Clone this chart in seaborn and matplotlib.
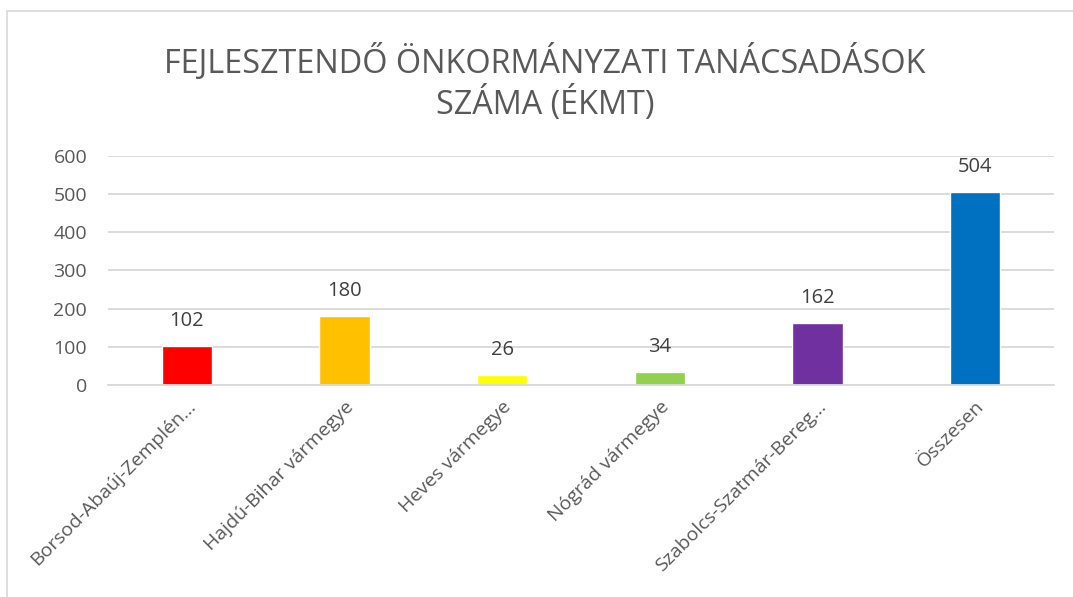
import matplotlib
matplotlib.use("Agg")
import matplotlib.pyplot as plt
import seaborn as sns
import pandas as pd
from matplotlib.patches import Rectangle

categories = ["Borsod-Abaúj-Zemplén…", "Hajdú-Bihar vármegye", "Heves vármegye",
              "Nógrád vármegye", "Szabolcs-Szatmár-Bereg…", "Összesen"]
values = [102, 180, 26, 34, 162, 504]
colors = ["#FF0000", "#FFC000", "#FFFF00", "#92D050", "#7030A0", "#0070C0"]
yticks = [0, 100, 200, 300, 400, 500, 600]
title = "FEJLESZTENDŐ ÖNKORMÁNYZATI TANÁCSADÁSOK\nSZÁMA (ÉKMT)"

sns.set_theme(style="white")
plt.rcParams['font.family'] = ['Open Sans', 'DejaVu Sans']

df = pd.DataFrame({"cat": categories, "val": values})

fig = plt.figure(figsize=(10.73, 5.97), dpi=100)
ax = fig.add_axes([108/1073, 1-385/597, (1054-108)/1073, (385-155.5)/597])

sns.barplot(data=df, x="cat", y="val", hue="cat", palette=colors, dodge=False,
            width=0.32, legend=False, ax=ax, saturation=1)

ax.set_ylim(0, 600)
ax.set_yticks(yticks)
ax.set_xlim(-0.5, len(categories) - 0.5)
ax.yaxis.grid(True, color="#D9D9D9", linewidth=1.3)
ax.set_axisbelow(True)
for s in ["top", "right", "left"]:
    ax.spines[s].set_visible(False)
ax.spines["bottom"].set_color("#D9D9D9")
ax.spines["bottom"].set_linewidth(1.3)
ax.tick_params(axis="both", length=0, labelsize=14, colors="#595959")
ax.tick_params(axis="y", pad=15)
ax.tick_params(axis="x", pad=9)
ax.set_xlabel("")
ax.set_ylabel("")
plt.setp(ax.get_xticklabels(), rotation=45, ha="right", rotation_mode="anchor")

for i, v in enumerate(values):
    ax.annotate(str(v), (i, v), xytext=(0, 11), textcoords="offset points",
                ha="center", va="bottom", fontsize=14.5, color="#404040")

fig.text(545/1073, 1-83/597, title, ha="center", va="center", fontsize=23.3,
         color="#595959", linespacing=1.2,
         family=['Liberation Sans Narrow', 'Open Sans', 'DejaVu Sans'])

fig.patches.append(Rectangle((7/1073, -0.05), 1.1, 1-11/597+0.05,
                             transform=fig.transFigure, fill=False,
                             edgecolor="#D9D9D9", linewidth=1.2))

fig.savefig("out.png", dpi=100)
